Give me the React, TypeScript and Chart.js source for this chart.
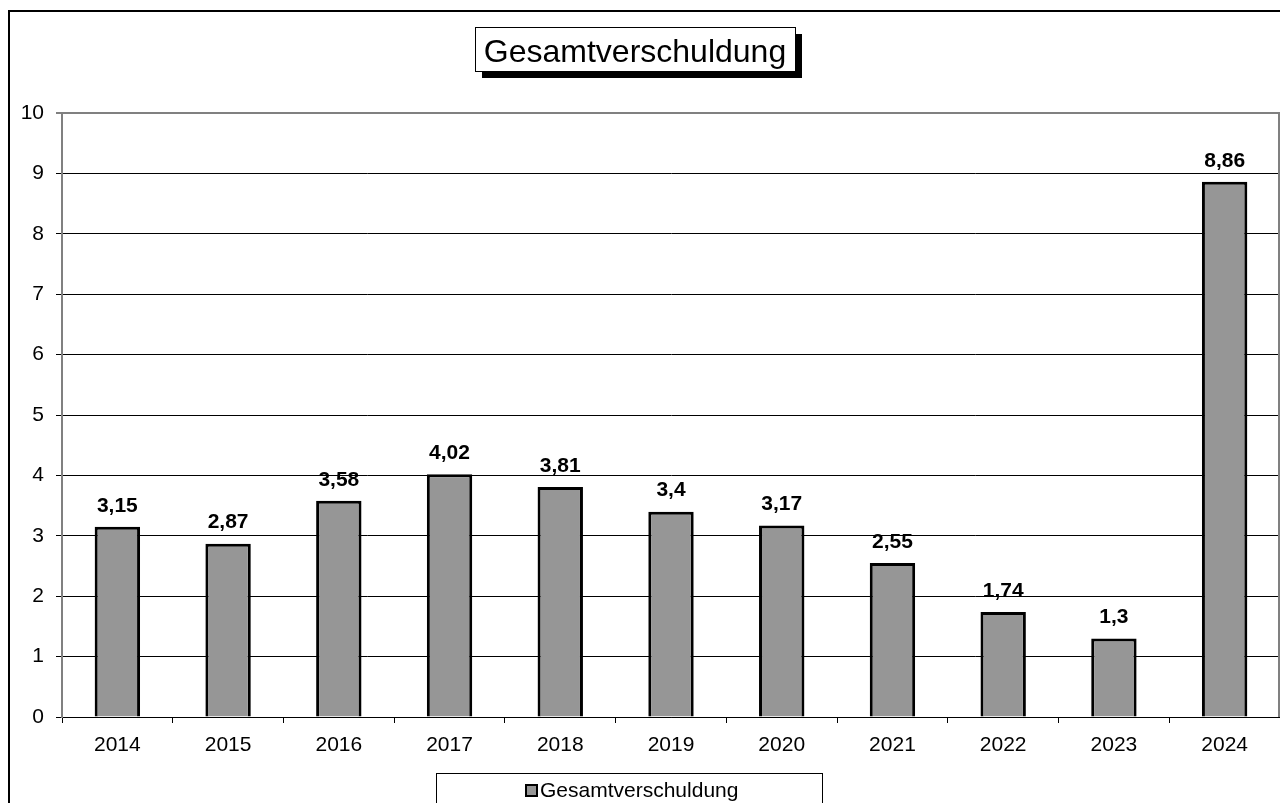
import React, { useEffect, useRef } from "react";
import { Chart, registerables } from "chart.js";

Chart.register(...registerables);

const chartTitle = "Gesamtverschuldung";
const seriesName = "Gesamtverschuldung";
const years = ["2014", "2015", "2016", "2017", "2018", "2019", "2020", "2021", "2022", "2023", "2024"];
const values = [3.15, 2.87, 3.58, 4.02, 3.81, 3.4, 3.17, 2.55, 1.74, 1.3, 8.86];
const yTicks = [0, 1, 2, 3, 4, 5, 6, 7, 8, 9, 10];

const FONT = "'Liberation Sans', Arial, sans-serif";
const BAR_FILL = "#969696";

const decorPlugin = {
  id: "decor",
  beforeDraw(chart: any) {
    const ctx = chart.ctx;
    ctx.save();
    ctx.fillStyle = "#fff";
    ctx.fillRect(0, 0, chart.width, chart.height);
    ctx.strokeStyle = "#000";
    ctx.lineWidth = 2;
    ctx.beginPath();
    ctx.moveTo(9, chart.height + 5);
    ctx.lineTo(9, 11);
    ctx.lineTo(chart.width + 5, 11);
    ctx.stroke();
    ctx.restore();
  },
  afterDraw(chart: any) {
    const ctx = chart.ctx;
    const area = chart.chartArea;
    ctx.save();
    ctx.strokeStyle = "#808080";
    ctx.lineWidth = 2;
    ctx.beginPath();
    ctx.moveTo(area.right - 1, area.top);
    ctx.lineTo(area.right - 1, area.bottom);
    ctx.stroke();

    // title box with shadow
    const bx = 475;
    const by = 27;
    const bw = 320;
    const bh = 44;
    ctx.fillStyle = "#000";
    ctx.fillRect(bx + 7, by + 7, bw, bh);
    ctx.fillStyle = "#fff";
    ctx.fillRect(bx, by, bw, bh);
    ctx.strokeStyle = "#000";
    ctx.lineWidth = 1;
    ctx.strokeRect(bx + 0.5, by + 0.5, bw, bh);
    ctx.font = `32px ${FONT}`;
    ctx.fillStyle = "#000";
    ctx.textAlign = "center";
    ctx.textBaseline = "alphabetic";
    ctx.fillText(chartTitle, bx + bw / 2, 62);

    // legend box
    ctx.fillStyle = "#fff";
    ctx.fillRect(436, 773, 386, 40);
    ctx.strokeStyle = "#000";
    ctx.lineWidth = 1;
    ctx.strokeRect(436.5, 773.5, 386, 40);
    ctx.fillStyle = BAR_FILL;
    ctx.fillRect(526, 785, 11, 11);
    ctx.lineWidth = 2;
    ctx.strokeRect(526, 785, 11, 11);
    ctx.font = `21px ${FONT}`;
    ctx.fillStyle = "#000";
    ctx.textAlign = "left";
    ctx.textBaseline = "middle";
    ctx.fillText(seriesName, 540, 791);
    ctx.restore();
  },
  afterDatasetsDraw(chart: any) {
    const ctx = chart.ctx;
    const meta = chart.getDatasetMeta(0);
    ctx.save();
    ctx.font = `bold 21px ${FONT}`;
    ctx.fillStyle = "#000";
    ctx.textAlign = "center";
    ctx.textBaseline = "middle";
    meta.data.forEach((el: any, i: number) => {
      const label = String(values[i]).replace(".", ",");
      ctx.fillText(label, el.x, el.y - 21);
    });
    ctx.restore();
  },
};

export default function App() {
  const ref = useRef<HTMLCanvasElement>(null);
  useEffect(() => {
    if (!ref.current) return;
    const chart = new Chart(ref.current, {
      type: "bar",
      data: {
        labels: years,
        datasets: [
          {
            label: seriesName,
            data: values,
            backgroundColor: BAR_FILL,
            borderColor: "#000",
            borderWidth: 3,
            categoryPercentage: 1,
            barPercentage: 0.41,
          },
        ],
      },
      options: {
        responsive: false,
        animation: false,
        layout: { padding: { top: 113, right: 0, bottom: 0, left: 0 } },
        plugins: {
          legend: { display: false },
          title: { display: false },
          tooltip: { enabled: false },
        },
        scales: {
          x: {
            afterFit(scale: any) {
              scale.height = 86;
            },
            grid: {
              offset: true,
              drawOnChartArea: false,
              drawTicks: true,
              tickLength: 6,
              color: "#000",
            },
            border: { color: "#000", width: 1 },
            ticks: {
              color: "#000",
              font: { family: FONT, size: 21 },
              padding: 10,
              maxRotation: 0,
            },
          },
          y: {
            min: 0,
            max: 10,
            afterFit(scale: any) {
              scale.width = 62;
            },
            afterBuildTicks(scale: any) {
              scale.ticks = yTicks.map((v) => ({ value: v }));
            },
            grid: {
              color: (c: any) => (c.tick && c.tick.value === 10 ? "#808080" : "#000"),
              lineWidth: (c: any) => (c.tick && c.tick.value === 10 ? 2 : 1),
              tickLength: 6,
            },
            border: { color: "#808080", width: 2 },
            ticks: {
              color: "#000",
              font: { family: FONT, size: 21 },
              padding: 12,
              stepSize: 1,
            },
          },
        },
      },
      plugins: [decorPlugin],
    });
    return () => chart.destroy();
  }, []);
  return (
    <div style={{ position: "absolute", left: 0, top: 0, width: 1280, height: 803 }}>
      <canvas ref={ref} width={1280} height={803} style={{ display: "block" }} />
    </div>
  );
}
